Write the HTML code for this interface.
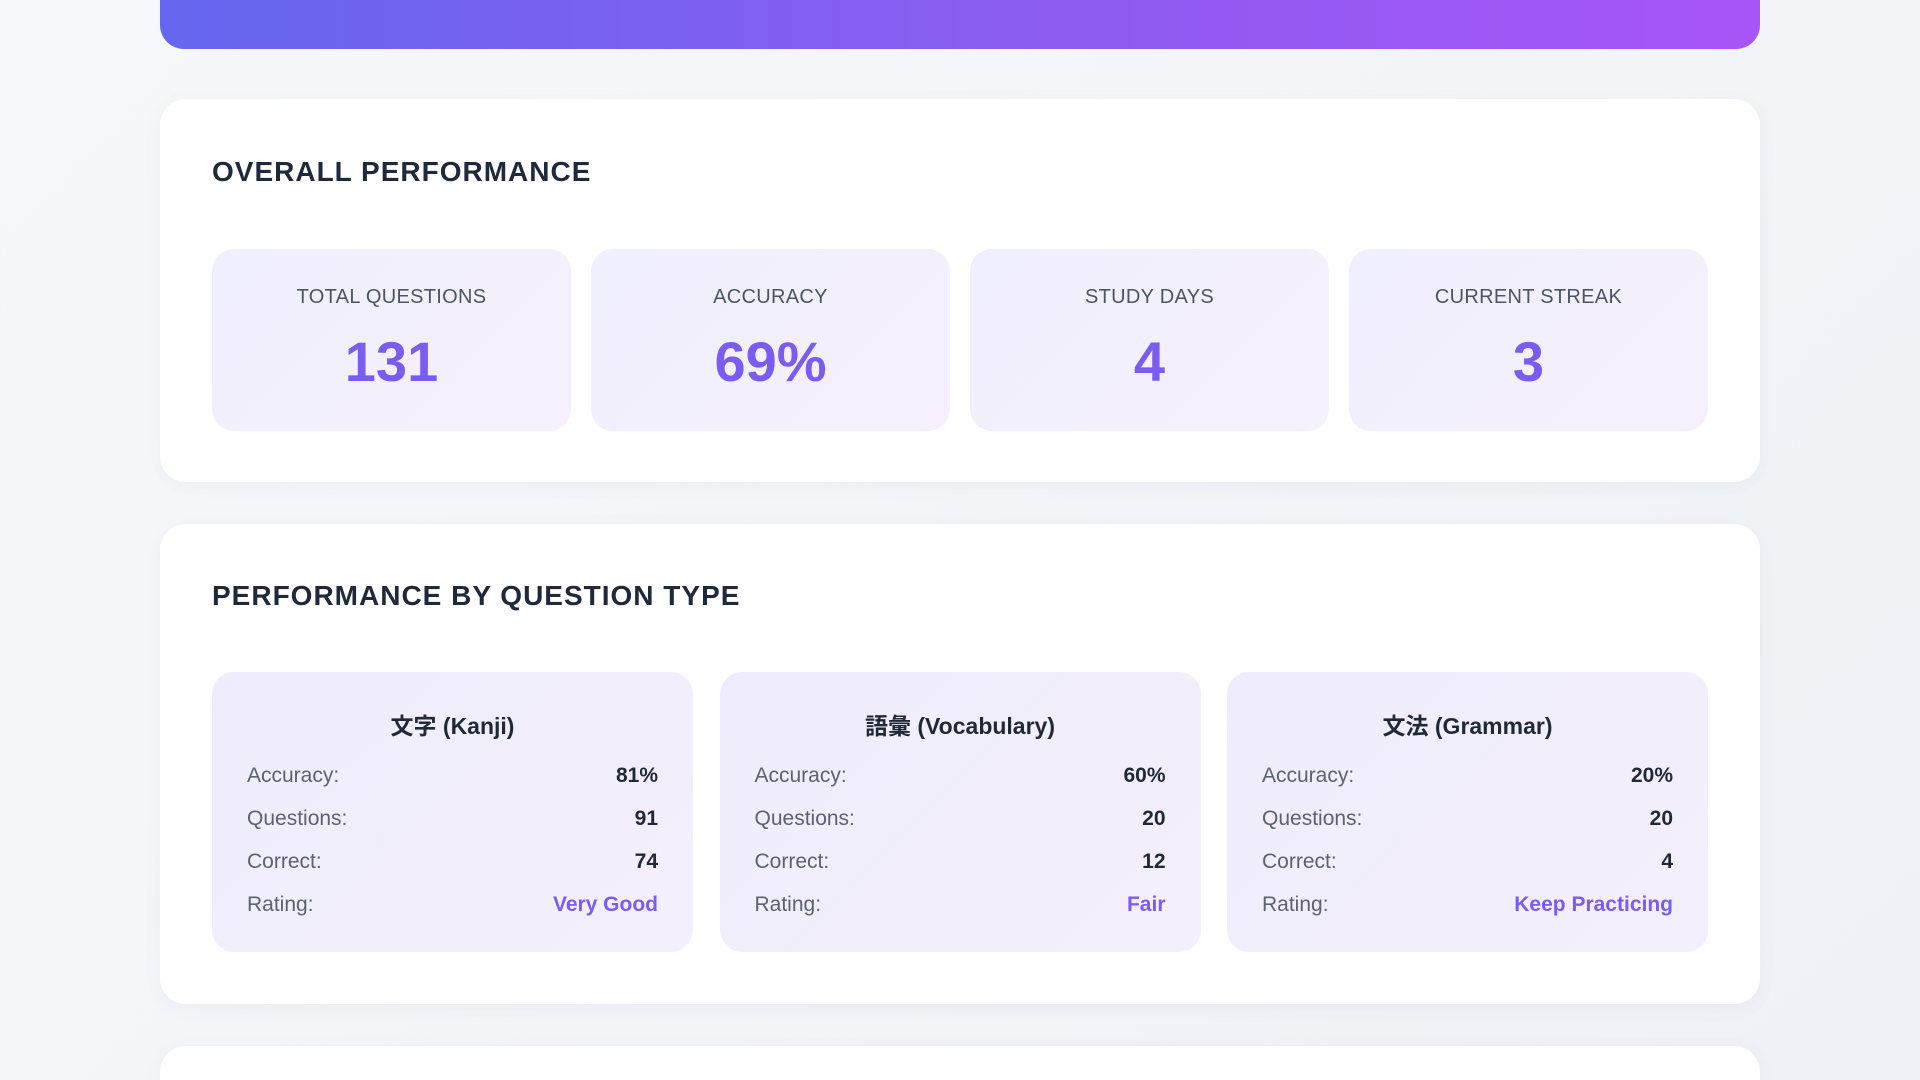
<!DOCTYPE html>
<html><head><meta charset="utf-8">
<style>
*{box-sizing:border-box;margin:0;padding:0}
html{width:1920px;height:1080px;overflow:hidden}
body{width:1920px;height:1080px;overflow:hidden;background:linear-gradient(135deg,#f7f8fb,#eef1f5);font-family:"Liberation Sans","Noto Sans CJK JP",sans-serif;position:relative}
.banner{position:absolute;left:160px;top:-20px;width:1600px;height:69px;border-radius:0 0 24px 24px;background:linear-gradient(90deg,#6667f0,#8b5cf0 55%,#a855f7)}
.panel{position:absolute;left:160px;width:1600px;background:#fff;border-radius:26px;box-shadow:0 4px 20px rgba(30,40,80,.04)}
.ptitle{position:absolute;left:52px;font-size:28px;font-weight:bold;color:#1e293b;letter-spacing:1px}
.stat{position:absolute;top:150px;width:359px;height:182px;border-radius:22px;background:linear-gradient(135deg,#f0effd,#f5f0fc);text-align:center}
.stat .lab{position:absolute;top:37px;left:0;right:0;font-size:20px;color:#4b5563;letter-spacing:.3px}
.stat .val{position:absolute;top:80px;left:0;right:0;font-size:56px;font-weight:bold;color:#7a5cf0}
.type{position:absolute;top:148px;width:481px;height:280px;border-radius:22px;background:linear-gradient(135deg,#efedfd,#f4effc)}
.type .tt{position:absolute;top:35px;left:0;right:0;text-align:center;font-size:23px;font-weight:bold;color:#1f2937}
.row{position:absolute;left:35px;right:35px;height:30px;font-size:21px;line-height:30px}
.row .k{position:absolute;left:0;color:#5b6270}
.row .v{position:absolute;right:0;font-weight:bold;color:#1f2937}
.row .v.r{color:#7a5cf0}
</style></head><body>
<div class="banner"></div>
<div class="panel" style="top:99px;height:383px">
  <div class="ptitle" style="top:57px">OVERALL PERFORMANCE</div>
  <div id="stats"></div>
</div>
<div class="panel" style="top:524px;height:480px">
  <div class="ptitle" style="top:56px">PERFORMANCE BY QUESTION TYPE</div>
  <div id="types"></div>
</div>
<div class="panel" style="top:1046px;height:60px"></div>
<script>
const statLabels=["TOTAL QUESTIONS","ACCURACY","STUDY DAYS","CURRENT STREAK"];
const statValues=["131","69%","4","3"];
const typeNames=["文字 (Kanji)","語彙 (Vocabulary)","文法 (Grammar)"];
const typeAccuracy=[81,60,20];
const typeQuestions=[91,20,20];
const typeCorrect=[74,12,4];
const typeRatings=["Very Good","Fair","Keep Practicing"];
const sWrap=document.getElementById('stats');
statLabels.forEach((l,i)=>{
  const d=document.createElement('div');d.className='stat';d.style.left=(52+i*379)+'px';
  
  
  d.innerHTML='<div class="lab">'+l+'</div><div class="val">'+statValues[i]+'</div>';
  sWrap.appendChild(d);
});
const tWrap=document.getElementById('types');
typeNames.forEach((n,i)=>{
  const d=document.createElement('div');d.className='type';d.style.left=(52+i*507.5)+'px';
  
  
  const rows=[["Accuracy:",typeAccuracy[i]+'%',''],["Questions:",typeQuestions[i],''],["Correct:",typeCorrect[i],''],["Rating:",typeRatings[i],' r']];
  let h='<div class="tt">'+n+'</div>';
  rows.forEach((r,j)=>{h+='<div class="row" style="top:'+(89+j*43)+'px"><span class="k">'+r[0]+'</span><span class="v'+r[2]+'">'+r[1]+'</span></div>';});
  d.innerHTML=h;
  tWrap.appendChild(d);
});
</script>
</body></html>
